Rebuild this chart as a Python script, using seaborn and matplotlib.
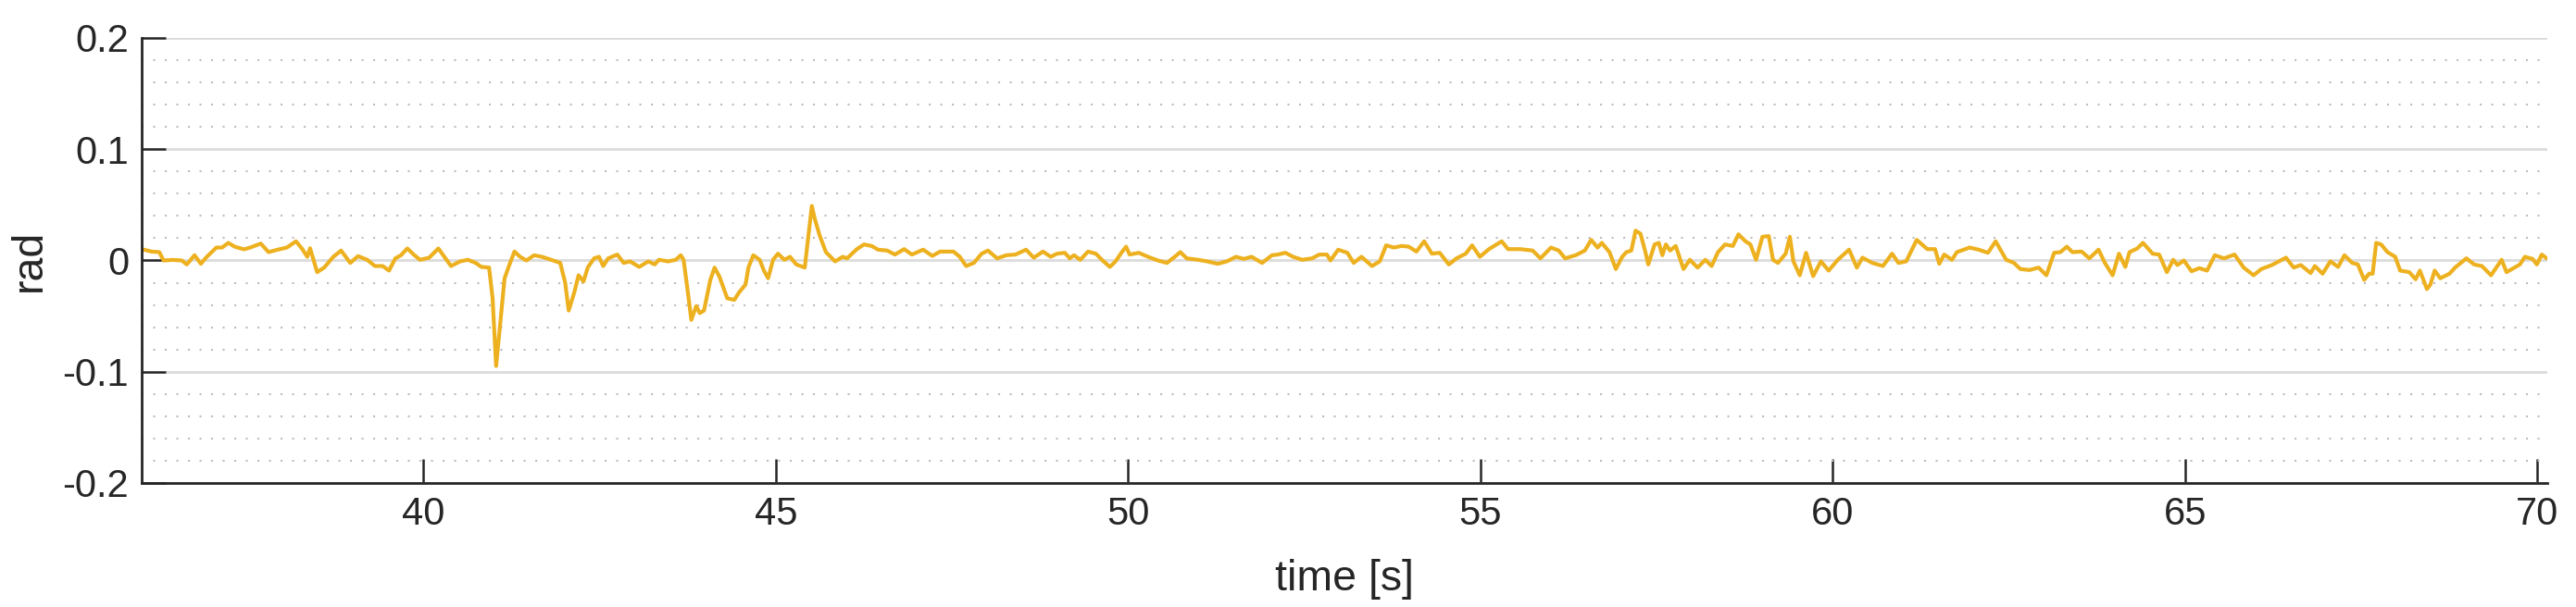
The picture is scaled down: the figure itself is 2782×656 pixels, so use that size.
import numpy as np
import pandas as pd
import matplotlib
matplotlib.use("Agg")
import matplotlib.pyplot as plt
from matplotlib.ticker import MultipleLocator
import seaborn as sns

# ---- data (time [s], angle [rad]) ----
seg_a = [(36.00, 0.0102), (36.14, 0.008), (36.25, 0.0075), (36.31, 0.0), (36.44, 0.0005),
         (36.57, 0.0), (36.64, -0.0036), (36.75, 0.0047), (36.84, -0.003), (36.92, 0.003),
         (37.06, 0.0116), (37.14, 0.0116), (37.23, 0.0158), (37.32, 0.0124), (37.45, 0.010),
         (37.54, 0.0116), (37.69, 0.0152), (37.80, 0.0075), (37.93, 0.0097), (38.06, 0.0116),
         (38.19, 0.0172), (38.28, 0.0102), (38.35, 0.0033), (38.39, 0.011), (38.49, -0.0105),
         (38.59, -0.0064), (38.72, 0.0033), (38.83, 0.0089), (38.96, -0.0022), (39.07, 0.0039),
         (39.20, 0.0006), (39.31, -0.005), (39.42, -0.005), (39.51, -0.0091), (39.60, 0.0019),
         (39.68, 0.0047), (39.77, 0.0108), (39.86, 0.0053), (39.95, 0.0006), (40.08, 0.0025),
         (40.21, 0.0108), (40.28, 0.0047), (40.39, -0.005), (40.52, -0.0008), (40.63, 0.0006),
         (40.74, -0.0022), (40.82, -0.0058), (40.93, -0.0064), (40.98, -0.034), (41.03, -0.0949),
         (41.08, -0.0617), (41.15, -0.016), (41.22, -0.0036), (41.29, 0.008), (41.37, 0.0033),
         (41.46, 0.0), (41.57, 0.0047)]
seg_b = [(41.68, 0.0033), (41.81, 0.0006), (41.94, -0.0022), (42.01, -0.020), (42.06, -0.045),
         (42.14, -0.0285), (42.20, -0.0133), (42.27, -0.0188), (42.33, -0.0064), (42.42, 0.0019),
         (42.49, 0.0033), (42.55, -0.005), (42.62, 0.0019), (42.75, 0.0053), (42.84, -0.0022),
         (42.93, -0.0008), (43.06, -0.0058), (43.19, -0.0008), (43.28, -0.0036), (43.34, 0.0006),
         (43.47, -0.0008), (43.58, 0.0006), (43.65, 0.0047), (43.69, 0.0006), (43.74, -0.023),
         (43.80, -0.0534), (43.87, -0.041), (43.92, -0.0473), (43.98, -0.045), (44.07, -0.0174),
         (44.13, -0.0064), (44.20, -0.0147), (44.31, -0.034), (44.41, -0.0354), (44.48, -0.0285),
         (44.57, -0.0216), (44.61, -0.0064), (44.68, 0.0047), (44.77, 0.0006), (44.83, -0.0091),
         (44.89, -0.016), (44.96, 0.0006), (45.03, 0.0061), (45.12, 0.0006), (45.20, 0.0033),
         (45.29, -0.0036), (45.41, -0.0064), (45.47, 0.0268), (45.51, 0.049), (45.55, 0.0379),
         (45.62, 0.0227), (45.71, 0.0075), (45.84, -0.0008), (45.95, 0.0033), (46.01, 0.0019),
         (46.15, 0.0102), (46.25, 0.0144), (46.36, 0.013), (46.45, 0.0097), (46.58, 0.0089),
         (46.69, 0.0053), (46.82, 0.0102), (46.93, 0.0053), (47.09, 0.0097), (47.22, 0.0041),
         (47.33, 0.008)]
seg_c = [(47.39, 0.008), (47.52, 0.008), (47.61, 0.0033), (47.70, -0.005), (47.81, -0.0022),
         (47.92, 0.0061), (48.01, 0.0089), (48.14, 0.0019), (48.27, 0.0047), (48.40, 0.0053),
         (48.55, 0.0097), (48.66, 0.0025), (48.79, 0.008), (48.90, 0.0033), (48.99, 0.0061),
         (49.10, 0.0069), (49.17, 0.0019), (49.23, 0.0047), (49.32, 0.0006), (49.43, 0.008),
         (49.54, 0.0061), (49.65, -0.0008), (49.74, -0.0058), (49.82, -0.0008), (49.91, 0.0075),
         (49.97, 0.0124), (50.02, 0.0053), (50.15, 0.0069), (50.28, 0.0033), (50.42, 0.0),
         (50.55, -0.0022), (50.66, 0.0033), (50.74, 0.0075), (50.83, 0.0019), (50.99, 0.0006),
         (51.12, -0.0008), (51.27, -0.003), (51.40, -0.0008), (51.53, 0.0033), (51.64, 0.0014),
         (51.75, 0.0033), (51.90, -0.0022), (52.04, 0.0047), (52.12, 0.0053), (52.23, 0.0069),
         (52.34, 0.0033), (52.47, 0.0006), (52.61, 0.0019), (52.71, 0.0053), (52.82, 0.0053),
         (52.87, 0.0), (52.98, 0.0097)]
seg_d = [(53.11, 0.0069), (53.20, -0.0022), (53.31, 0.0033), (53.46, -0.005), (53.57, -0.0008),
         (53.66, 0.0136), (53.77, 0.0116), (53.88, 0.013), (53.98, 0.0124), (54.09, 0.008),
         (54.20, 0.0172), (54.31, 0.0061), (54.42, 0.0069), (54.55, -0.0036), (54.66, 0.0019),
         (54.79, 0.0061), (54.88, 0.0136), (54.99, 0.0033), (55.12, 0.0102), (55.30, 0.0172),
         (55.39, 0.0102), (55.56, 0.0102), (55.74, 0.0089), (55.85, 0.0019), (56.00, 0.0116),
         (56.11, 0.0089), (56.20, 0.0019), (56.35, 0.0047), (56.48, 0.0089), (56.57, 0.0185),
         (56.66, 0.0116), (56.72, 0.0158), (56.83, 0.0075), (56.92, -0.0077), (57.01, 0.0033),
         (57.07, 0.0075), (57.14, 0.0089), (57.20, 0.0268), (57.27, 0.024), (57.34, 0.0075),
         (57.38, -0.0036), (57.47, 0.0144), (57.53, 0.0158), (57.58, 0.0047), (57.63, 0.0144),
         (57.69, 0.0089), (57.77, 0.013), (57.88, -0.0077), (57.97, 0.0006), (58.08, -0.0064),
         (58.19, 0.0006), (58.28, -0.005), (58.37, 0.0075), (58.47, 0.0144), (58.58, 0.013),
         (58.66, 0.0235), (58.76, 0.0172)]
seg_e = [(58.83, 0.0144), (58.91, 0.0006), (59.00, 0.0213), (59.09, 0.0219), (59.15, 0.0006),
         (59.22, -0.0022), (59.33, 0.0061), (59.39, 0.0213), (59.44, -0.0008), (59.53, -0.0133),
         (59.62, 0.0069), (59.72, -0.0141), (59.83, -0.0008), (59.94, -0.0091), (60.07, 0.0006),
         (60.23, 0.0097), (60.34, -0.0064), (60.42, 0.0025), (60.56, -0.0022), (60.71, -0.005),
         (60.84, 0.0061), (60.93, -0.0022), (61.04, -0.0008), (61.19, 0.0185), (61.34, 0.0102),
         (61.45, 0.0102), (61.51, -0.003), (61.58, 0.0053), (61.69, 0.0006), (61.76, 0.0075),
         (61.94, 0.0116), (62.07, 0.0097), (62.20, 0.0069), (62.31, 0.0172), (62.46, 0.0006),
         (62.57, -0.0022), (62.66, -0.0077), (62.79, -0.0086), (62.92, -0.0064), (63.03, -0.0133),
         (63.14, 0.0069), (63.23, 0.0075), (63.32, 0.0124), (63.40, 0.0075), (63.53, 0.008),
         (63.64, 0.0019), (63.77, 0.0097), (63.86, -0.0022), (63.97, -0.0133), (64.06, 0.0061),
         (64.15, -0.0058), (64.21, 0.0075), (64.32, 0.0108), (64.40, 0.0158), (64.48, 0.0102)]
seg_f = [(64.54, 0.006), (64.63, 0.0053), (64.74, -0.0105), (64.83, 0.0006), (64.89, -0.0041),
         (64.98, 0.0), (65.09, -0.0097), (65.20, -0.0069), (65.31, -0.0091), (65.42, 0.0047),
         (65.55, 0.0019), (65.70, 0.0053), (65.83, -0.0064), (65.97, -0.0133), (66.08, -0.0077),
         (66.23, -0.0041), (66.43, 0.0025), (66.54, -0.0064), (66.64, -0.0041), (66.78, -0.0113),
         (66.84, -0.005), (66.95, -0.0119), (67.06, -0.0008), (67.17, -0.0058), (67.26, 0.0047),
         (67.37, -0.0022), (67.45, -0.0036), (67.54, -0.0174), (67.61, -0.0119), (67.66, -0.0119),
         (67.71, 0.0158), (67.78, 0.0144), (67.87, 0.0075), (67.98, 0.0033), (68.05, -0.0091),
         (68.18, -0.0105), (68.27, -0.0169), (68.33, -0.0091), (68.43, -0.0257), (68.48, -0.0216),
         (68.54, -0.0091), (68.62, -0.016), (68.75, -0.0119), (68.83, -0.0064), (68.99, 0.0019),
         (69.10, -0.0036), (69.21, -0.005), (69.34, -0.0133), (69.49, 0.0006), (69.56, -0.0105),
         (69.75, -0.0036), (69.82, 0.0033), (69.93, 0.0014), (69.99, -0.0036), (70.06, 0.0053),
         (70.13, 0.0019)]

x_ticks = [40, 45, 50, 55, 60, 65, 70]
y_ticks = [-0.2, -0.1, 0, 0.1, 0.2]
y_tick_labels = ["-0.2", "-0.1", "0", "0.1", "0.2"]

pairs = seg_a + seg_b + seg_c + seg_d + seg_e + seg_f
df = pd.DataFrame(pairs, columns=["time", "rad"])

# ---- style ----
sns.set_style("white")
plt.rcParams["font.family"] = ["Liberation Sans", "DejaVu Sans"]
TXT = "#262626"

fig = plt.figure(figsize=(27.82, 6.56), dpi=100)
ax = fig.add_axes([0.055, 0.2043, 0.9339, 0.7332])

sns.lineplot(data=df, x="time", y="rad", color="#EDB120", linewidth=3.0,
             ax=ax, zorder=3, sort=False)

ax.set_xlim(36.0, 70.14)
ax.set_ylim(-0.2, 0.2)
ax.set_xticks(x_ticks)
ax.set_xticklabels([str(v) for v in x_ticks])
ax.set_yticks(y_ticks)
ax.set_yticklabels(y_tick_labels)
ax.yaxis.set_minor_locator(MultipleLocator(0.02))

ax.set_axisbelow(True)
ax.yaxis.grid(True, which="major", color="#dcdcdc", linewidth=2.0, linestyle="-")
ax.yaxis.grid(True, which="minor", color="#bdbdbd", linewidth=1.5, linestyle=(0, (1, 5)))
ax.xaxis.grid(False)

for side in ["top", "right"]:
    ax.spines[side].set_visible(False)
for side in ["left", "bottom"]:
    ax.spines[side].set_color(TXT)
    ax.spines[side].set_linewidth(2.0)
    ax.spines[side].set_zorder(4)

ax.tick_params(axis="both", which="major", direction="in", length=19, width=1.8,
               color=TXT, labelcolor=TXT, labelsize=30, bottom=True, left=True,
               top=False, right=False)
ax.tick_params(axis="y", which="major", pad=10)
ax.tick_params(axis="x", which="major", pad=10)
ax.tick_params(axis="y", which="minor", length=0, left=False)

ax.set_xlabel("time [s]", fontsize=33.5, color=TXT)
ax.set_ylabel("rad", fontsize=33.5, color=TXT)
ax.xaxis.set_label_coords(0.5, -0.17)
ax.yaxis.set_label_coords(-0.038, 0.5)

fig.savefig("out.png", dpi=100, facecolor="white")
